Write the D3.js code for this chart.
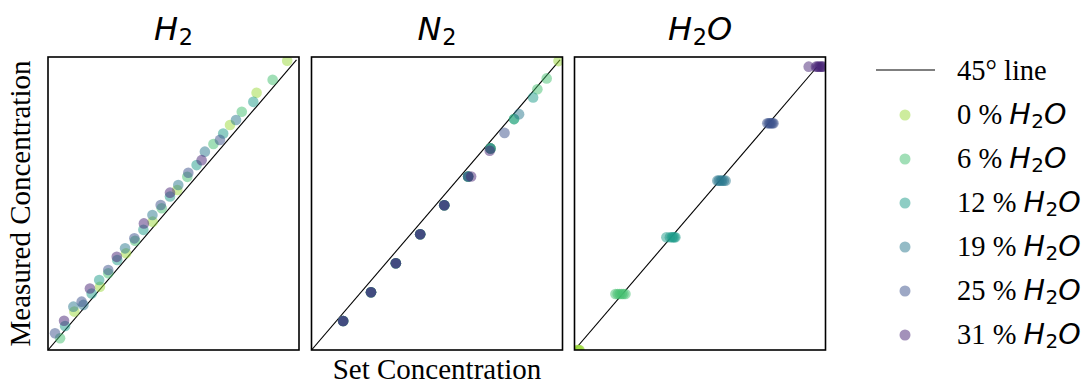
<!DOCTYPE html>
<html>
<head>
<meta charset="utf-8">
<script src="https://cdn.jsdelivr.net/npm/d3@7"></script>
<style>
  html, body { margin: 0; padding: 0; background: #fff; }
  svg { display: block; }
</style>
</head>
<body>
<div id="chart"></div>
<script>
// ---------------- data ----------------
const panelTitles = ["H2", "N2", "H2O"];
const waterLevels = [0, 6, 12, 19, 25, 31];
const xLabel = "Set Concentration";
const yLabel = "Measured Concentration";
const lineLabel = "45\u00B0 line";
// end of the 45° reference line for each panel (normalised units)
const lineEnd = [0.99, 0.99, 0.965];

// H2 panel: [set, measured] per water level
const h2Series = [
  [[0.105,0.131],[0.207,0.216],[0.311,0.330],[0.417,0.438],[0.515,0.546],[0.725,0.768],[0.831,0.878],[0.953,0.987]],
  [[0.048,0.040],[0.240,0.262],[0.347,0.373],[0.453,0.484],[0.555,0.591],[0.659,0.703],[0.772,0.813],[0.895,0.922]],
  [[0.068,0.082],[0.174,0.193],[0.204,0.239],[0.276,0.307],[0.380,0.410],[0.486,0.524],[0.592,0.631],[0.698,0.739],[0.818,0.847]],
  [[0.101,0.148],[0.141,0.154],[0.307,0.347],[0.416,0.461],[0.519,0.563],[0.625,0.677],[0.749,0.785]],
  [[0.028,0.057],[0.134,0.165],[0.240,0.273],[0.344,0.381],[0.449,0.495],[0.559,0.605],[0.685,0.717]],
  [[0.064,0.100],[0.167,0.210],[0.274,0.318],[0.382,0.432],[0.486,0.537],[0.612,0.648]]
];

// N2 panel
const n2Series = [
  [[0.126,0.099],[0.237,0.197],[0.336,0.296],[0.433,0.395],[0.529,0.494],[0.624,0.592],[0.713,0.688],[0.984,0.986]],
  [[0.126,0.099],[0.237,0.197],[0.336,0.296],[0.433,0.395],[0.529,0.494],[0.624,0.592],[0.713,0.688],[0.807,0.788],[0.900,0.890],[0.937,0.927]],
  [[0.126,0.099],[0.237,0.197],[0.336,0.296],[0.433,0.395],[0.529,0.494],[0.624,0.592],[0.713,0.688],[0.807,0.788],[0.883,0.862]],
  [[0.126,0.099],[0.237,0.197],[0.336,0.296],[0.433,0.395],[0.529,0.494],[0.624,0.592],[0.713,0.688],[0.827,0.805]],
  [[0.126,0.099],[0.237,0.197],[0.336,0.296],[0.433,0.395],[0.529,0.494],[0.624,0.592],[0.769,0.741]],
  [[0.126,0.099],[0.237,0.197],[0.336,0.296],[0.433,0.395],[0.529,0.494],[0.636,0.592],[0.710,0.680]]
];

// H2O panel
const h2oSeries = [
  [[0.010,0.000],[0.015,0.000],[0.020,0.000],[0.018,0.000]],
  [[0.163,0.191],[0.172,0.191],[0.180,0.191],[0.188,0.191],[0.195,0.191],[0.203,0.191]],
  [[0.366,0.385],[0.380,0.385],[0.388,0.385],[0.393,0.385],[0.398,0.385],[0.402,0.385]],
  [[0.569,0.578],[0.575,0.578],[0.582,0.578],[0.588,0.578],[0.595,0.578],[0.602,0.578]],
  [[0.768,0.774],[0.774,0.774],[0.779,0.774],[0.784,0.774],[0.789,0.774],[0.793,0.774]],
  [[0.933,0.967],[0.962,0.967],[0.968,0.967],[0.974,0.967],[0.980,0.967],[0.986,0.967],[0.990,0.967]]
];

const panelData = [h2Series, n2Series, h2oSeries];

// ---------------- layout / style ----------------
const W = 1088, H = 383;
const panelLeft = [48, 311.5, 574.5];
const panelW = 251;
const plotTop = 57, plotBottom = 350;
const colorT = [0.85, 0.7, 0.55, 0.4, 0.25, 0.1];
const colors = colorT.map(t => d3.interpolateViridis(t));
const alpha = 0.5;
const r = 5.3;
const serif = "'Liberation Serif', 'Times New Roman', serif";
const mathFont = "'DejaVu Sans', sans-serif";

const svg = d3.select("#chart").append("svg")
  .attr("width", W).attr("height", H);

// helper for chemical formula in mathtext style
function addFormula(textSel, name) {
  const parts = name.match(/[A-Z][a-z]?\d*/g);
  parts.forEach(p => {
    const m = p.match(/([A-Z][a-z]?)(\d*)/);
    textSel.append("tspan").attr("font-family", mathFont).attr("font-style", "italic").text(m[1]);
    if (m[2]) {
      textSel.append("tspan").attr("font-family", mathFont).attr("font-style", "normal")
        .attr("font-size", "70%").attr("dx", "0.03em").attr("dy", "0.22em").text(m[2]);
      textSel.append("tspan").attr("dy", "-0.154em").text("\u200B");
    }
  });
}

const defs = svg.append("defs");

panelData.forEach((series, i) => {
  const x = d3.scaleLinear().domain([0, 1]).range([panelLeft[i], panelLeft[i] + panelW]);
  const y = d3.scaleLinear().domain([0, 1]).range([plotBottom, plotTop]);
  const g = svg.append("g");

  defs.append("clipPath").attr("id", "clip" + i)
    .append("rect").attr("x", x(0)).attr("y", y(1))
    .attr("width", x(1) - x(0)).attr("height", y(0) - y(1));

  const plot = g.append("g").attr("clip-path", `url(#clip${i})`);

  plot.append("line")
    .attr("x1", x(0)).attr("y1", y(0))
    .attr("x2", x(lineEnd[i])).attr("y2", y(lineEnd[i]))
    .attr("stroke", "#000").attr("stroke-width", 1.1);

  series.forEach((pts, s) => {
    plot.selectAll(null).data(pts).enter().append("circle")
      .attr("cx", d => x(d[0])).attr("cy", d => y(d[1]))
      .attr("r", r)
      .attr("fill", colors[s]).attr("fill-opacity", alpha);
  });

  g.append("rect")
    .attr("x", x(0)).attr("y", y(1))
    .attr("width", x(1) - x(0)).attr("height", y(0) - y(1))
    .attr("fill", "none").attr("stroke", "#000").attr("stroke-width", 1.6);

  const t = g.append("text")
    .attr("x", (x(0) + x(1)) / 2).attr("y", 40)
    .attr("text-anchor", "middle").attr("font-size", 32);
  addFormula(t, panelTitles[i]);
});

// axis labels
svg.append("text")
  .attr("x", (panelLeft[1] + panelW / 2)).attr("y", 379)
  .attr("text-anchor", "middle")
  .attr("font-family", serif).attr("font-size", 29)
  .text(xLabel);

svg.append("text")
  .attr("transform", `translate(30, ${(plotTop + plotBottom) / 2}) rotate(-90)`)
  .attr("text-anchor", "middle")
  .attr("font-family", serif).attr("font-size", 29)
  .text(yLabel);

// legend
const legX = 876, legTextX = 957, legY0 = 71, legStep = 44;
const leg = svg.append("g");
leg.append("line")
  .attr("x1", legX).attr("x2", legX + 59)
  .attr("y1", legY0 - 1).attr("y2", legY0 - 1)
  .attr("stroke", "#000").attr("stroke-width", 1.1);
leg.append("text")
  .attr("x", legTextX).attr("y", legY0 + 9)
  .attr("font-family", serif).attr("font-size", 28.5)
  .text(lineLabel);

waterLevels.forEach((w, k) => {
  const cy = legY0 + legStep * (k + 1);
  leg.append("circle")
    .attr("cx", 905).attr("cy", cy).attr("r", 5.5)
    .attr("fill", colors[k]).attr("fill-opacity", alpha);
  const t = leg.append("text")
    .attr("x", legTextX).attr("y", cy + 9)
    .attr("font-family", serif).attr("font-size", 28.5);
  t.append("tspan").text(w + " % ");
  addFormula(t, "H2O");
});
</script>
</body>
</html>
